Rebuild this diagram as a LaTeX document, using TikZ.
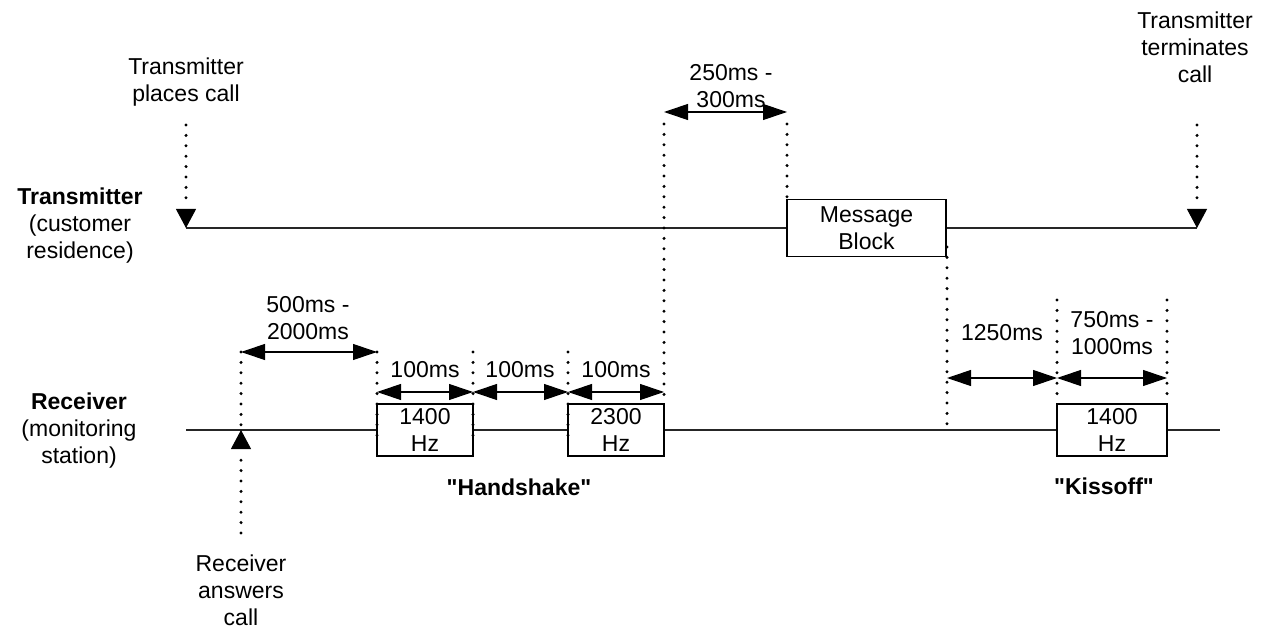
\documentclass[tikz,border=0pt]{standalone}
\usepackage{fontspec}
\setmainfont{Liberation Sans}
\usetikzlibrary{arrows.meta}
\begin{document}
\begin{tikzpicture}[x=1pt,y=-1pt,
  txt/.style={font=\fontsize{23}{27}\selectfont, align=center, inner sep=0pt},
  boldtxt/.style={txt, font=\fontsize{23}{27}\selectfont\bfseries},
  sig/.style={line width=1.1pt, draw=black!85},
  dots/.style={line width=3.3pt, line cap=round, dash pattern=on 0pt off 10.4pt},
  dim/.style={line width=1.1pt, {Triangle[length=24pt,width=16pt]}-{Triangle[length=24pt,width=16pt]}},
  evt/.style={line width=1pt, -{Triangle[length=19pt,width=20pt]}},
  blk/.style={draw, line width=1.1pt, fill=white, txt, minimum width=96pt, minimum height=52pt},
]
\useasboundingbox (0,0) rectangle (1271,628);

% ---- transmitter time line
\coordinate (t0) at (186,228);
\coordinate (t1) at (1197,228);
\node[blk, minimum width=159pt, minimum height=57pt] (msg) at (866.5,228) {Message\\Block};
\draw[sig] (t0) -- (msg.west);
\draw[sig] (msg.east) -- (t1);

% ---- receiver time line
\coordinate (r0) at (186,430);
\coordinate (r1) at (1220,430);
\node[blk] (b1) at (425,430) {1400\\Hz};
\node[blk] (b2) at (616,430) {2300\\Hz};
\node[blk, minimum width=110pt] (b3) at (1112,430) {1400\\Hz};
\draw[sig] (r0) -- (b1.west);
\draw[sig] (b1.east) -- (b2.west);
\draw[sig] (b2.east) -- (b3.west);
\draw[sig] (b3.east) -- (r1);

% ---- events
\coordinate (pc0) at (186,125);
\coordinate (pc1) at (186,208);
\coordinate (pc2) at (186,210);
\draw[dots] (pc0) -- (pc1);
\draw[evt] (pc2) -- (t0);
\coordinate (tc0) at (1197,125);
\coordinate (tc1) at (1197,208);
\coordinate (tc2) at (1197,210);
\draw[dots] (tc0) -- (tc1);
\draw[evt] (tc2) -- (t1);
\coordinate (ra0) at (241,533);
\coordinate (ra1) at (241,450);
\coordinate (ra3) at (241,448);
\coordinate (ra2) at (241,430);
\draw[dots] (ra0) -- (ra1);
\draw[evt] (ra3) -- (ra2);

% ---- dotted guide lines
\coordinate (g1a) at (241,352);  \coordinate (g1b) at (241,426);
\coordinate (g2a) at (377,352);  \coordinate (g2b) at (377,440);
\coordinate (g3a) at (473,352);  \coordinate (g3b) at (473,440);
\coordinate (g4a) at (568,352);  \coordinate (g4b) at (568,440);
\coordinate (g5a) at (664,124);  \coordinate (g5b) at (664,402);
\coordinate (g6a) at (787,124);  \coordinate (g6b) at (787,200);
\coordinate (g7a) at (947,247);  \coordinate (g7b) at (947,428);
\coordinate (g8a) at (1057,300); \coordinate (g8b) at (1057,395);
\coordinate (g9a) at (1167,300); \coordinate (g9b) at (1167,395);
\foreach \g in {1,...,9} \draw[dots] (g\g a) -- (g\g b);

% ---- dimension arrows
\coordinate (d1a) at (241,352); \coordinate (d1b) at (377,352);
\coordinate (d2a) at (377,392); \coordinate (d2b) at (473,392);
\coordinate (d3a) at (473,392); \coordinate (d3b) at (568,392);
\coordinate (d4a) at (568,392); \coordinate (d4b) at (664,392);
\coordinate (d5a) at (664,112); \coordinate (d5b) at (787,112);
\coordinate (d6a) at (947,378); \coordinate (d6b) at (1057,378);
\coordinate (d7a) at (1057,378); \coordinate (d7b) at (1167,378);
\foreach \d in {1,...,7} \draw[dim] (d\d a) -- (d\d b);

% ---- labels
\node[txt] (lpc) at (186,82.5) {Transmitter\\places call};
\node[txt] (ltc) at (1195,47) {Transmitter\\terminates\\call};
\node[txt] (lra) at (241,590) {Receiver\\answers\\call};
\node[txt] (ltx) at (80,226) {\textbf{Transmitter}\\(customer\\residence)};
\node[txt] (lrx) at (79,431) {\textbf{Receiver}\\(monitoring\\station)};
\node[txt] (l500) at (308,318) {500ms -\\2000ms};
\node[txt] (l100a) at (425,370) {100ms};
\node[txt] (l100b) at (520,370) {100ms};
\node[txt] (l100c) at (616,370) {100ms};
\node[txt] (l250) at (731,86.5) {250ms -\\300ms};
\node[txt] (l1250) at (1002,333) {1250ms};
\node[txt] (l750) at (1112,333.5) {750ms -\\1000ms};
\node[boldtxt] (lhs) at (519,487) {\textquotedbl Handshake\textquotedbl};
\node[boldtxt] (lko) at (1104,486) {\textquotedbl Kissoff\textquotedbl};
\end{tikzpicture}
\end{document}
